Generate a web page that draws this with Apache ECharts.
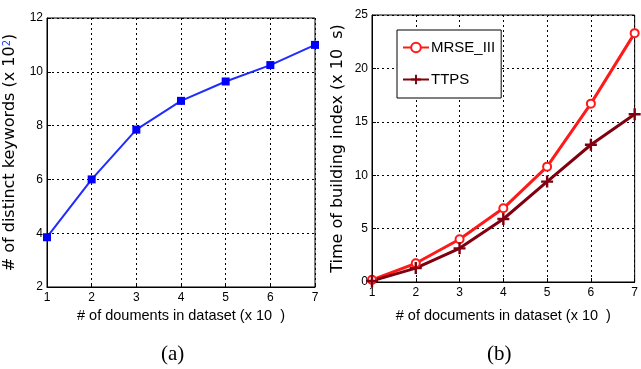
<!DOCTYPE html>
<html>
<head>
<meta charset="utf-8">
<script src="https://cdn.jsdelivr.net/npm/echarts@6/dist/echarts.min.js"></script>
<style>
  html, body { margin: 0; padding: 0; background: #fff; }
  #main { width: 641px; height: 369px; }
</style>
</head>
<body>
<div id="main"></div>
<script>
// data
const docCounts = [1, 2, 3, 4, 5, 6, 7];
const distinctKeywords = [3.85, 6.0, 7.85, 8.92, 9.64, 10.25, 11.0];
const mrseIII = [0.2, 1.75, 4.0, 6.9, 10.8, 16.7, 23.3];
const ttps = [0.1, 1.3, 3.15, 5.9, 9.4, 12.85, 15.7];

const FONT = '"Liberation Sans", Arial, sans-serif';
const WIDE_FONT = '"DejaVu Sans", "Liberation Sans", sans-serif';
const SERIF = '"Liberation Serif", "DejaVu Serif", serif';
const PLUS = 'path://M4,0h2v4h4v2h-4v4h-2v-4h-4v-2h4z';

const pairs = (xs, ys) => xs.map((x, i) => [x, ys[i]]);

function xAxisFor(gridIndex, name, gap) {
    return {
        gridIndex,
        type: 'value',
        min: 1,
        max: 7,
        interval: 1,
        name,
        nameLocation: 'middle',
        nameGap: gap,
        nameTextStyle: { fontFamily: FONT, fontSize: 14.5, color: '#000' },
        axisLine: { lineStyle: { color: '#000', width: 1 } },
        axisTick: { inside: true, length: 4, lineStyle: { color: '#000' } },
        axisLabel: { fontFamily: FONT, fontSize: 12, color: '#000', margin: 5 },
        splitLine: { show: true, lineStyle: { color: '#000', type: [2, 3], width: 1 } },
    };
}

function yAxisFor(gridIndex, min, max, interval, name, gap, rich) {
    return {
        gridIndex,
        type: 'value',
        min,
        max,
        interval,
        name,
        nameLocation: 'middle',
        nameRotate: 90,
        nameGap: gap,
        nameTextStyle: { fontFamily: WIDE_FONT, fontSize: 16, color: '#000', rich },
        axisLine: { show: true, lineStyle: { color: '#000', width: 1 } },
        axisTick: { show: true, inside: true, length: 4, lineStyle: { color: '#000' } },
        axisLabel: { fontFamily: FONT, fontSize: 12, color: '#000', margin: 4 },
        splitLine: { show: true, lineStyle: { color: '#000', type: [2, 3], width: 1 } },
    };
}

const chart = echarts.init(document.getElementById('main'));

chart.setOption({
    animation: false,
    backgroundColor: '#fff',
    grid: [
        { left: 47, top: 18, width: 268, height: 269, show: true, borderColor: '#000', borderWidth: 1, backgroundColor: 'transparent' },
        { left: 372, top: 15, width: 268, height: 267, show: true, borderColor: '#000', borderWidth: 1, backgroundColor: 'transparent' },
    ],
    xAxis: [
        xAxisFor(0, '# of douments in dataset (x 10  )', 21),
        xAxisFor(1, '# of documents in dataset (x 10  )', 26),
    ],
    yAxis: [
        yAxisFor(0, 2, 12, 2, '# of distinct keywords (x 10{sup|2})', 29, {
            sup: { fontFamily: WIDE_FONT, fontSize: 10, color: '#1a3cff', verticalAlign: 'top', padding: [0, 0, 6, 0] },
        }),
        yAxisFor(1, 0, 25, 5, 'Time of building index (x 10  s)', 26),
    ],
    legend: {
        data: ['MRSE_III', 'TTPS'],
        orient: 'vertical',
        left: 397,
        top: 30,
        padding: [10, 6, 11, 5],
        itemGap: 17,
        itemWidth: 26,
        itemHeight: 12,
        borderColor: '#000',
        borderWidth: 1,
        backgroundColor: '#fff',
        textStyle: { fontFamily: FONT, fontSize: 15, color: '#000', padding: [0, 0, 0, -3] },
    },
    series: [
        {
            type: 'line',
            xAxisIndex: 0,
            yAxisIndex: 0,
            data: pairs(docCounts, distinctKeywords),
            symbol: 'rect',
            symbolSize: 8,
            lineStyle: { color: '#1f2bff', width: 2 },
            itemStyle: { color: '#0000ff' },
        },
        {
            name: 'MRSE_III',
            type: 'line',
            xAxisIndex: 1,
            yAxisIndex: 1,
            data: pairs(docCounts, mrseIII),
            symbol: 'emptyCircle',
            symbolSize: 8,
            lineStyle: { color: '#ff1a1a', width: 3 },
            itemStyle: { color: '#ff1a1a', borderWidth: 1.5 },
        },
        {
            name: 'TTPS',
            type: 'line',
            xAxisIndex: 1,
            yAxisIndex: 1,
            data: pairs(docCounts, ttps),
            symbol: PLUS,
            symbolSize: 12,
            lineStyle: { color: '#800010', width: 3 },
            itemStyle: { color: '#800010' },
        },
    ],
    graphic: [
        {
            type: 'text',
            left: 161,
            top: 344,
            style: { text: '(a)', fontFamily: SERIF, fontSize: 21, fill: '#000' },
        },
        {
            type: 'text',
            left: 487,
            top: 344,
            style: { text: '(b)', fontFamily: SERIF, fontSize: 21, fill: '#000' },
        },
    ],
});
</script>
</body>
</html>
